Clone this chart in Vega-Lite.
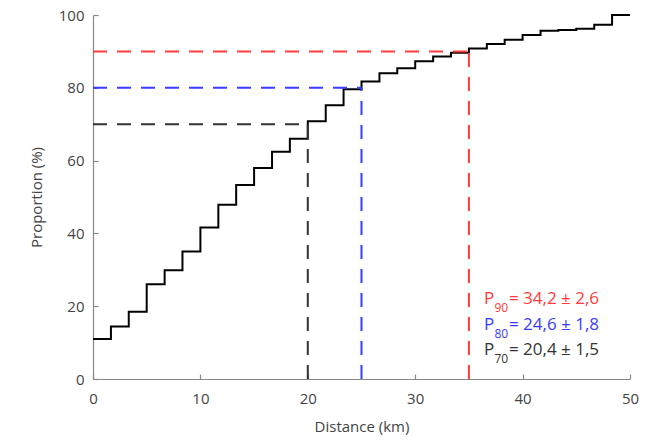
{
  "$schema": "https://vega.github.io/schema/vega-lite/v6.json",
  "autosize": "none",
  "width": 537,
  "height": 364,
  "padding": {"left": 93, "top": 15, "right": 19, "bottom": 61},
  "background": "white",
  "config": {
    "view": {"stroke": null},
    "font": "Open Sans",
    "axis": {
      "grid": false,
      "domainColor": "#888888",
      "tickColor": "#888888",
      "labelColor": "#444444",
      "titleColor": "#444444",
      "labelFont": "Open Sans",
      "titleFont": "Open Sans",
      "labelFontSize": 15,
      "titleFontSize": 15,
      "titleFontWeight": "normal",
      "tickSize": -5,
      "labelFlush": false,
      "labelOverlap": false,
      "domainWidth": 1.2,
      "tickWidth": 1.2
    }
  },
  "datasets": {
    "steps": [
      {"distance": 0, "proportion": 11.0},
      {"distance": 1.67, "proportion": 14.4},
      {"distance": 3.33, "proportion": 18.5},
      {"distance": 5.0, "proportion": 26.0},
      {"distance": 6.67, "proportion": 29.9},
      {"distance": 8.33, "proportion": 35.0},
      {"distance": 10.0, "proportion": 41.6},
      {"distance": 11.67, "proportion": 47.9},
      {"distance": 13.33, "proportion": 53.3},
      {"distance": 15.0, "proportion": 58.0},
      {"distance": 16.67, "proportion": 62.4},
      {"distance": 18.33, "proportion": 66.0},
      {"distance": 20.0, "proportion": 70.8},
      {"distance": 21.67, "proportion": 75.2},
      {"distance": 23.33, "proportion": 79.6},
      {"distance": 25.0, "proportion": 81.7},
      {"distance": 26.67, "proportion": 84.0},
      {"distance": 28.33, "proportion": 85.4},
      {"distance": 30.0, "proportion": 87.3},
      {"distance": 31.67, "proportion": 88.6},
      {"distance": 33.33, "proportion": 89.6},
      {"distance": 35.0, "proportion": 90.8},
      {"distance": 36.67, "proportion": 92.0},
      {"distance": 38.33, "proportion": 93.2},
      {"distance": 40.0, "proportion": 94.5},
      {"distance": 41.67, "proportion": 95.7},
      {"distance": 43.33, "proportion": 95.9},
      {"distance": 45.0, "proportion": 96.2},
      {"distance": 46.67, "proportion": 97.3},
      {"distance": 48.33, "proportion": 100},
      {"distance": 50.0, "proportion": 100}
    ],
    "percentiles": [
      {"key": "P90", "level": 90, "dist": 35, "base": 0, "sym": "P", "sub": "90", "rest": "= 34,2 ± 2,6", "lx": 36.4, "ly": 22.1},
      {"key": "P80", "level": 80, "dist": 25, "base": 0, "sym": "P", "sub": "80", "rest": "= 24,6 ± 1,8", "lx": 36.4, "ly": 14.9},
      {"key": "P70", "level": 70, "dist": 20, "base": 0, "sym": "P", "sub": "70", "rest": "= 20,4 ± 1,5", "lx": 36.4, "ly": 7.9}
    ]
  },
  "layer": [
    {
      "data": {"name": "steps"},
      "mark": {"type": "line", "interpolate": "step-after", "color": "#000000", "strokeWidth": 2},
      "encoding": {
        "x": {
          "field": "distance", "type": "quantitative",
          "scale": {"domain": [0, 50], "nice": false},
          "axis": {"values": [0, 10, 20, 30, 40, 50], "title": "Distance (km)", "labelPadding": 17, "titlePadding": 13}
        },
        "y": {
          "field": "proportion", "type": "quantitative",
          "scale": {"domain": [0, 100], "nice": false},
          "axis": {"values": [0, 20, 40, 60, 80, 100], "title": "Proportion (%)", "labelPadding": 14, "titlePadding": 14}
        }
      }
    },
    {
      "data": {"name": "percentiles"},
      "mark": {"type": "rule", "strokeWidth": 2, "strokeDash": [14, 10]},
      "encoding": {
        "x": {"field": "base", "type": "quantitative"},
        "x2": {"field": "dist"},
        "y": {"field": "level", "type": "quantitative"},
        "color": {"field": "key", "type": "nominal", "scale": {"domain": ["P90", "P80", "P70"], "range": ["#ff3b3b", "#3b3bff", "#333333"]}, "legend": null}
      }
    },
    {
      "data": {"name": "percentiles"},
      "mark": {"type": "rule", "strokeWidth": 2, "strokeDash": [14, 10]},
      "encoding": {
        "x": {"field": "dist", "type": "quantitative"},
        "y": {"field": "base", "type": "quantitative"},
        "y2": {"field": "level"},
        "color": {"field": "key", "type": "nominal", "legend": null}
      }
    },
    {
      "data": {"name": "percentiles"},
      "mark": {"type": "text", "align": "left", "baseline": "middle", "fontSize": 17, "font": "Open Sans"},
      "encoding": {
        "x": {"field": "lx", "type": "quantitative"},
        "y": {"field": "ly", "type": "quantitative"},
        "text": {"field": "sym"},
        "color": {"field": "key", "type": "nominal", "legend": null}
      }
    },
    {
      "data": {"name": "percentiles"},
      "mark": {"type": "text", "align": "left", "baseline": "middle", "fontSize": 12, "dx": 10.5, "dy": 9, "font": "Open Sans"},
      "encoding": {
        "x": {"field": "lx", "type": "quantitative"},
        "y": {"field": "ly", "type": "quantitative"},
        "text": {"field": "sub"},
        "color": {"field": "key", "type": "nominal", "legend": null}
      }
    },
    {
      "data": {"name": "percentiles"},
      "mark": {"type": "text", "align": "left", "baseline": "middle", "fontSize": 17, "dx": 25, "font": "Open Sans"},
      "encoding": {
        "x": {"field": "lx", "type": "quantitative"},
        "y": {"field": "ly", "type": "quantitative"},
        "text": {"field": "rest"},
        "color": {"field": "key", "type": "nominal", "legend": null}
      }
    }
  ]
}
